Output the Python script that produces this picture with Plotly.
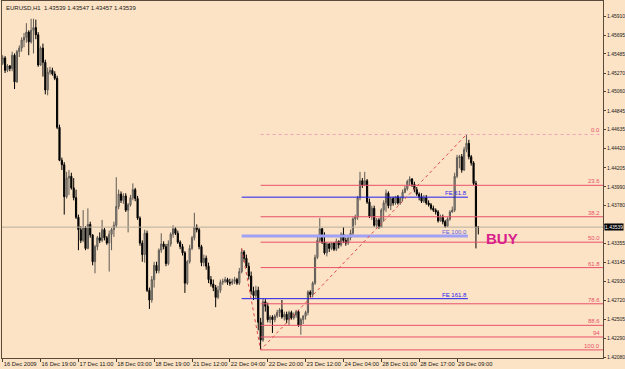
import plotly.graph_objects as go

# ---------------- data (EURUSD H1) ----------------
opens = [1.4538,1.4544,1.4530,1.4535,1.4532,1.4547,1.4517,1.4551,1.4555,1.4564,
1.4567,1.4573,1.4562,1.4575,1.4578,1.4570,1.4536,1.4555,1.4539,1.4508,
1.4528,1.4530,1.4526,1.4521,1.4466,1.4429,1.4424,1.4388,1.4409,1.4411,
1.4398,1.4387,1.4365,1.4351,1.4339,1.4353,1.4330,1.4357,1.4345,1.4315,
1.4332,1.4342,1.4339,1.4351,1.4342,1.4336,1.4346,1.4351,1.4356,1.4377,
1.4391,1.4384,1.4389,1.4373,1.4379,1.4387,1.4396,1.4386,1.4364,1.4336,
1.4323,1.4347,1.4283,1.4272,1.4295,1.4311,1.4305,1.4328,1.4335,1.4332,
1.4313,1.4335,1.4346,1.4352,1.4347,1.4337,1.4332,1.4325,1.4291,1.4315,
1.4330,1.4342,1.4354,1.4351,1.4332,1.4314,1.4319,1.4310,1.4295,1.4290,
1.4286,1.4275,1.4283,1.4292,1.4293,1.4295,1.4292,1.4291,1.4293,1.4295,
1.4291,1.4304,1.4326,1.4319,1.4310,1.4299,1.4282,1.4277,1.4283,1.4247,
1.4227,1.4270,1.4265,1.4250,1.4253,1.4250,1.4254,1.4258,1.4261,1.4253,
1.4256,1.4250,1.4258,1.4252,1.4255,1.4259,1.4244,1.4250,1.4254,1.4258,
1.4281,1.4278,1.4291,1.4320,1.4339,1.4352,1.4337,1.4325,1.4335,1.4330,
1.4336,1.4329,1.4338,1.4334,1.4346,1.4339,1.4336,1.4342,1.4347,1.4363,
1.4365,1.4387,1.4406,1.4401,1.4406,1.4382,1.4366,1.4375,1.4356,1.4362,
1.4354,1.4373,1.4381,1.4392,1.4378,1.4386,1.4381,1.4388,1.4381,1.4386,
1.4393,1.4397,1.4405,1.4408,1.4402,1.4396,1.4391,1.4388,1.4383,1.4387,
1.4381,1.4379,1.4375,1.4373,1.4371,1.4361,1.4365,1.4360,1.4355,1.4363,
1.4371,1.4373,1.4411,1.4432,1.4433,1.4418,1.4441,1.4448,1.4433,1.4426,
1.4403,1.43539]

highs = [1.4547,1.4546,1.4537,1.4536,1.4551,1.4549,1.4553,1.4558,1.4567,1.4572,
1.4583,1.4575,1.4588,1.4588,1.4587,1.4573,1.4557,1.4560,1.4542,1.4533,
1.4534,1.4533,1.4529,1.4524,1.4469,1.4432,1.4427,1.4416,1.4418,1.4415,
1.4409,1.4396,1.4368,1.4355,1.4373,1.4355,1.4375,1.4360,1.4346,1.4334,
1.4344,1.4348,1.4362,1.4353,1.4344,1.4350,1.4353,1.4360,1.4410,1.4396,
1.4394,1.4392,1.4392,1.4381,1.4390,1.4403,1.4398,1.4389,1.4366,1.4339,
1.4351,1.4350,1.4286,1.4299,1.4315,1.4315,1.4330,1.4347,1.4338,1.4335,
1.4339,1.4348,1.4356,1.4354,1.4350,1.4339,1.4335,1.4327,1.4317,1.4334,
1.4344,1.4370,1.4357,1.4353,1.4334,1.4323,1.4322,1.4314,1.4299,1.4295,
1.4289,1.4288,1.4295,1.4296,1.4298,1.4297,1.4296,1.4296,1.4298,1.4297,
1.4308,1.4330,1.4328,1.4323,1.4314,1.4304,1.4287,1.4288,1.4287,1.4252,
1.4274,1.4273,1.4269,1.4255,1.4255,1.4256,1.4261,1.4263,1.4272,1.4259,
1.4259,1.4260,1.4260,1.4258,1.4261,1.4261,1.4252,1.4255,1.4260,1.4283,
1.4283,1.4293,1.4323,1.4344,1.4364,1.4353,1.4348,1.4337,1.4336,1.4337,
1.4337,1.4341,1.4339,1.4348,1.4354,1.4342,1.4344,1.4351,1.4365,1.4368,
1.4389,1.4416,1.4409,1.4416,1.4408,1.4386,1.4378,1.4378,1.4364,1.4364,
1.4375,1.4384,1.4396,1.4394,1.4388,1.4388,1.4389,1.4390,1.4388,1.4396,
1.4400,1.4407,1.4411,1.4409,1.4405,1.4399,1.4393,1.4392,1.4390,1.4390,
1.4384,1.4381,1.4378,1.4375,1.4373,1.4368,1.4368,1.4362,1.4365,1.4373,
1.4377,1.4415,1.4435,1.4435,1.4436,1.4444,1.4458,1.4452,1.4435,1.4428,
1.4406,1.43547]

lows = [1.4536,1.4527,1.4528,1.4529,1.4529,1.4509,1.4516,1.4545,1.4551,1.4556,
1.4561,1.4547,1.4560,1.4549,1.4565,1.4534,1.4535,1.4523,1.4503,1.4502,
1.4525,1.4524,1.4519,1.4464,1.4428,1.4418,1.4368,1.4386,1.4390,1.4396,
1.4384,1.4363,1.4328,1.4336,1.4337,1.4328,1.4329,1.4342,1.4311,1.4302,
1.4328,1.4336,1.4337,1.4339,1.4334,1.4304,1.4328,1.4343,1.4353,1.4374,
1.4381,1.4380,1.4371,1.4348,1.4377,1.4384,1.4383,1.4362,1.4333,1.4315,
1.4314,1.4281,1.4262,1.4269,1.4286,1.4302,1.4302,1.4325,1.4329,1.4310,
1.4311,1.4332,1.4342,1.4345,1.4335,1.4329,1.4322,1.4280,1.4289,1.4313,
1.4328,1.4339,1.4348,1.4329,1.4310,1.4310,1.4306,1.4291,1.4287,1.4282,
1.4264,1.4273,1.4280,1.4289,1.4291,1.4289,1.4288,1.4289,1.4290,1.4289,
1.4289,1.4302,1.4315,1.4308,1.4295,1.4278,1.4272,1.4274,1.4238,1.4216,
1.4225,1.4259,1.4247,1.4246,1.4235,1.4247,1.4252,1.4253,1.4251,1.4249,
1.4246,1.4244,1.4250,1.4250,1.4252,1.4242,1.4233,1.4245,1.4250,1.4255,
1.4275,1.4275,1.4289,1.4318,1.4337,1.4335,1.4323,1.4321,1.4326,1.4328,
1.4327,1.4327,1.4330,1.4332,1.4336,1.4333,1.4334,1.4339,1.4345,1.4356,
1.4362,1.4384,1.4398,1.4400,1.4380,1.4364,1.4362,1.4354,1.4353,1.4352,
1.4353,1.4360,1.4371,1.4375,1.4373,1.4378,1.4379,1.4379,1.4379,1.4383,
1.4392,1.4395,1.4400,1.4399,1.4393,1.4389,1.4384,1.4381,1.4381,1.4379,
1.4377,1.4373,1.4371,1.4368,1.4359,1.4360,1.4357,1.4353,1.4354,1.4361,
1.4370,1.4371,1.4409,1.4420,1.4415,1.4417,1.4438,1.4430,1.4423,1.4401,
1.4330,1.43457]

closes = [1.4544,1.4530,1.4535,1.4532,1.4547,1.4517,1.4551,1.4555,1.4564,1.4567,
1.4573,1.4562,1.4575,1.4578,1.4570,1.4536,1.4555,1.4539,1.4508,1.4528,
1.4530,1.4526,1.4521,1.4466,1.4429,1.4424,1.4388,1.4409,1.4411,1.4398,
1.4387,1.4365,1.4351,1.4339,1.4353,1.4330,1.4357,1.4345,1.4315,1.4332,
1.4342,1.4339,1.4351,1.4342,1.4336,1.4346,1.4351,1.4356,1.4377,1.4391,
1.4384,1.4389,1.4373,1.4379,1.4387,1.4396,1.4386,1.4364,1.4336,1.4323,
1.4347,1.4283,1.4272,1.4295,1.4311,1.4305,1.4328,1.4335,1.4332,1.4313,
1.4335,1.4346,1.4352,1.4347,1.4337,1.4332,1.4325,1.4291,1.4315,1.4330,
1.4342,1.4354,1.4351,1.4332,1.4314,1.4319,1.4310,1.4295,1.4290,1.4286,
1.4275,1.4283,1.4292,1.4293,1.4295,1.4292,1.4291,1.4293,1.4295,1.4291,
1.4304,1.4326,1.4319,1.4310,1.4299,1.4282,1.4277,1.4283,1.4247,1.4227,
1.4270,1.4265,1.4250,1.4253,1.4250,1.4254,1.4258,1.4261,1.4253,1.4256,
1.4250,1.4258,1.4252,1.4255,1.4259,1.4244,1.4250,1.4254,1.4258,1.4281,
1.4278,1.4291,1.4320,1.4339,1.4352,1.4337,1.4325,1.4335,1.4330,1.4336,
1.4329,1.4338,1.4334,1.4346,1.4339,1.4336,1.4342,1.4347,1.4363,1.4365,
1.4387,1.4406,1.4401,1.4406,1.4382,1.4366,1.4375,1.4356,1.4362,1.4354,
1.4373,1.4381,1.4392,1.4378,1.4386,1.4381,1.4388,1.4381,1.4386,1.4393,
1.4397,1.4405,1.4408,1.4402,1.4396,1.4391,1.4388,1.4383,1.4387,1.4381,
1.4379,1.4375,1.4373,1.4371,1.4361,1.4365,1.4360,1.4355,1.4363,1.4371,
1.4373,1.4411,1.4432,1.4433,1.4418,1.4441,1.4448,1.4433,1.4426,1.4403,
1.43539,1.43539]

time_tick_bars = [0, 16, 32, 48, 64, 80, 96, 112, 128, 144, 160, 176, 192]
time_tick_labels = ["16 Dec 2009", "16 Dec 19:00", "17 Dec 11:00", "18 Dec 03:00",
                    "18 Dec 19:00", "21 Dec 12:00", "22 Dec 04:00", "22 Dec 20:00",
                    "23 Dec 12:00", "24 Dec 04:00", "28 Dec 01:00", "28 Dec 17:00",
                    "29 Dec 09:00"]
price_ticks = [1.45910, 1.45695, 1.45485, 1.45270, 1.45060, 1.44845, 1.44635,
               1.44420, 1.44205, 1.43990, 1.43780, 1.43565, 1.43355, 1.43145,
               1.42930, 1.42720, 1.42505, 1.42290, 1.42080]

fib_levels = [0.0, 23.6, 38.2, 50.0, 61.8, 78.6, 88.6, 94.0, 100.0]
fib_labels = ["0.0", "23.6", "38.2", "50.0", "61.8", "78.6", "88.6", "94", "100.0"]
fe_levels = [61.8, 100.0, 161.8]
fe_labels = ["FE 61.8", "FE 100.0", "FE 161.8"]
fe_point_a = 101          # bar of the expansion start (swing high)
symbol = "EURUSD,H1"
signal_text = "BUY"

# ---------------- derived anchors ----------------
n = len(closes)
x = list(range(n))
b_idx = min(range(n), key=lambda i: lows[i])                 # swing low
c_idx = max(range(b_idx, n), key=lambda i: highs[i])          # swing high
fib_hi, fib_lo = highs[c_idx], lows[b_idx]
a_price = highs[fe_point_a]
last = closes[-1]

X0, X1 = -0.3, 253.7
Y0, Y1 = 1.42069, 1.46079

BG = "#FCE3C5"
RED = "#E8506A"
BLUE = "#1E1EF0"
FONT = "Liberation Sans"
TXT = "#1a1a1a"

fig = go.Figure()

# current price line
fig.add_trace(go.Scatter(x=[X0, X1], y=[last, last], mode="lines",
                         line=dict(color="#B8AE9E", width=1), hoverinfo="skip"))

# fibo retracement lines
for lv, lab in zip(fib_levels, fib_labels):
    p = fib_hi - lv / 100 * (fib_hi - fib_lo)
    fig.add_trace(go.Scatter(x=[b_idx, X1], y=[p, p], mode="lines",
                             line=dict(color="#F0A0B8" if lv == 0 else RED, width=1,
                                       dash="dot" if lv == 0 else "solid"),
                             hoverinfo="skip"))
    fig.add_annotation(x=0.997, xref="paper", y=p, yref="y", text=lab,
                       xanchor="right", yanchor="bottom", showarrow=False,
                       font=dict(family=FONT, size=6, color=RED), borderpad=0)

# fibo expansion lines
for lv, lab in zip(fe_levels, fe_labels):
    p = highs[c_idx] - lv / 100 * (a_price - fib_lo)
    thick = lv == 100.0
    fig.add_trace(go.Scatter(x=[fe_point_a, c_idx + 0.6], y=[p, p], mode="lines",
                             line=dict(color="#A0A0F4" if thick else BLUE, width=3 if thick else 1),
                             hoverinfo="skip"))
    fig.add_annotation(x=c_idx + 0.6, y=p, text=lab, xanchor="right", yanchor="bottom",
                       showarrow=False, borderpad=0,
                       font=dict(family=FONT, size=6, color="#6060E8" if thick else BLUE))

# dotted trend lines
fig.add_trace(go.Scatter(x=[fe_point_a, b_idx, c_idx], y=[a_price, fib_lo, fib_hi], mode="lines",
                         line=dict(color="#E04848", width=1, dash="dot"), hoverinfo="skip"))

# candles
fig.add_trace(go.Candlestick(
    x=x, open=opens, high=highs, low=lows, close=closes,
    increasing=dict(line=dict(color="#5e5a55", width=1), fillcolor="#ABA59B"),
    decreasing=dict(line=dict(color="#000000", width=1), fillcolor="#000000"),
    whiskerwidth=0, hoverinfo="skip"))

# current price box
fig.add_annotation(x=1.0, xref="paper", y=last, yref="y", text=f"{last:.5f}",
                   xanchor="left", yanchor="middle", showarrow=False, xshift=1,
                   bgcolor="#000000", borderpad=0,
                   font=dict(family=FONT, size=5, color="#FFFFFF"))

# BUY signal text
fig.add_annotation(x=n + 1.5, y=fib_hi - 0.5 * (fib_hi - fib_lo) + 0.00045, text=f"<b>{signal_text}</b>",
                   xanchor="left", yanchor="middle", showarrow=False,
                   font=dict(family=FONT, size=15, color="#D8208C"))

# header text
fig.add_annotation(x=0.003, xref="paper", y=0.993, yref="paper", showarrow=False,
                   xanchor="left", yanchor="top",
                   text=f"{symbol}  {opens[-1]:.5f} {highs[-1]:.5f} {lows[-1]:.5f} {closes[-1]:.5f}",
                   font=dict(family=FONT, size=6, color=TXT))

ticktext = [("" if abs(v - last) < 0.0004 else f"{v:.5f}") for v in price_ticks]

fig.update_layout(
    width=625, height=369,
    margin=dict(l=2, r=22, t=1, b=11),
    paper_bgcolor=BG, plot_bgcolor=BG,
    showlegend=False,
    xaxis=dict(range=[X0, X1], tickmode="array", tickvals=time_tick_bars, ticktext=time_tick_labels,
               ticks="outside", ticklen=3, tickcolor="#4a4036", ticklabelposition="outside right",
               tickangle=0, automargin=False,
               showgrid=False, zeroline=False, showline=True, mirror=True,
               linecolor="#5a4a3c", linewidth=1,
               tickfont=dict(family=FONT, size=5.8, color=TXT),
               rangeslider=dict(visible=False), fixedrange=True),
    yaxis=dict(range=[Y0, Y1], side="right", tickmode="array", tickvals=price_ticks, ticktext=ticktext,
               ticks="outside", ticklen=2, tickcolor="#4a4036", automargin=False,
               ticklabelstandoff=0,
               showgrid=False, zeroline=False, showline=True, mirror=True,
               linecolor="#5a4a3c", linewidth=1,
               tickfont=dict(family=FONT, size=5, color=TXT), fixedrange=True),
)

fig.write_html("out.html")
